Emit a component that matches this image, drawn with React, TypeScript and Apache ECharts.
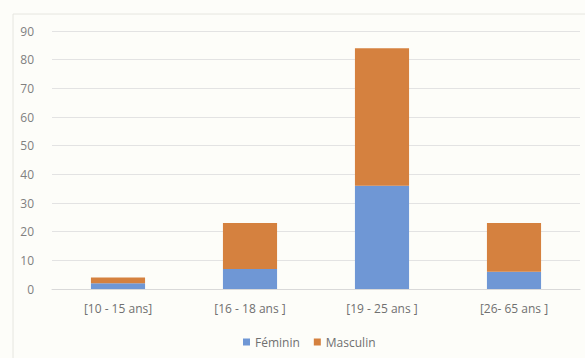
import React, { useEffect, useRef } from "react";
import * as echarts from "echarts";

const categories = ["[10 - 15 ans]", "[16 - 18 ans ]", "[19 - 25 ans ]", "[26- 65 ans ]"];
const feminin = [2, 7, 36, 6];
const masculin = [2, 16, 48, 17];
const yTicks = { min: 0, max: 90, interval: 10 };

export default function App() {
  const ref = useRef<HTMLDivElement>(null);
  useEffect(() => {
    const chart = echarts.init(ref.current!, null, { renderer: "svg" });
    const font = "Open Sans";
    chart.setOption({
      animation: false,
      backgroundColor: "#fdfdf9",
      textStyle: { fontFamily: font },
      graphic: [
        {
          type: "rect",
          shape: { x: 13, y: 14, width: 580, height: 360 },
          style: { fill: "none", stroke: "#e6e6e0", lineWidth: 1 },
        },
      ],
      grid: { left: 52, right: 5, top: 31, bottom: 69 },
      legend: {
        data: ["Féminin", "Masculin"],
        top: 331,
        left: 238,
        itemWidth: 7,
        itemHeight: 7,
        itemGap: 14,
        icon: "rect",
        textStyle: { color: "#707070", fontSize: 12, fontFamily: font },
      },
      xAxis: {
        type: "category",
        data: categories,
        axisLine: { lineStyle: { color: "#d9d9d9" } },
        axisTick: { show: false },
        axisLabel: { color: "#707070", fontSize: 12, margin: 13, fontFamily: font },
      },
      yAxis: {
        type: "value",
        min: yTicks.min,
        max: yTicks.max,
        interval: yTicks.interval,
        axisLine: { show: false },
        axisTick: { show: false },
        axisLabel: { color: "#808080", fontSize: 12, margin: 18, fontFamily: font },
        splitLine: { lineStyle: { color: "#e3e3e3" } },
      },
      series: [
        {
          name: "Féminin",
          type: "bar",
          stack: "total",
          data: feminin,
          barWidth: "41%",
          itemStyle: { color: "#6f97d5" },
        },
        {
          name: "Masculin",
          type: "bar",
          stack: "total",
          data: masculin,
          barWidth: "41%",
          itemStyle: { color: "#d5813f" },
        },
      ],
    });
    return () => chart.dispose();
  }, []);
  return <div ref={ref} style={{ width: 585, height: 358, position: "absolute", left: 0, top: 0 }} />;
}
